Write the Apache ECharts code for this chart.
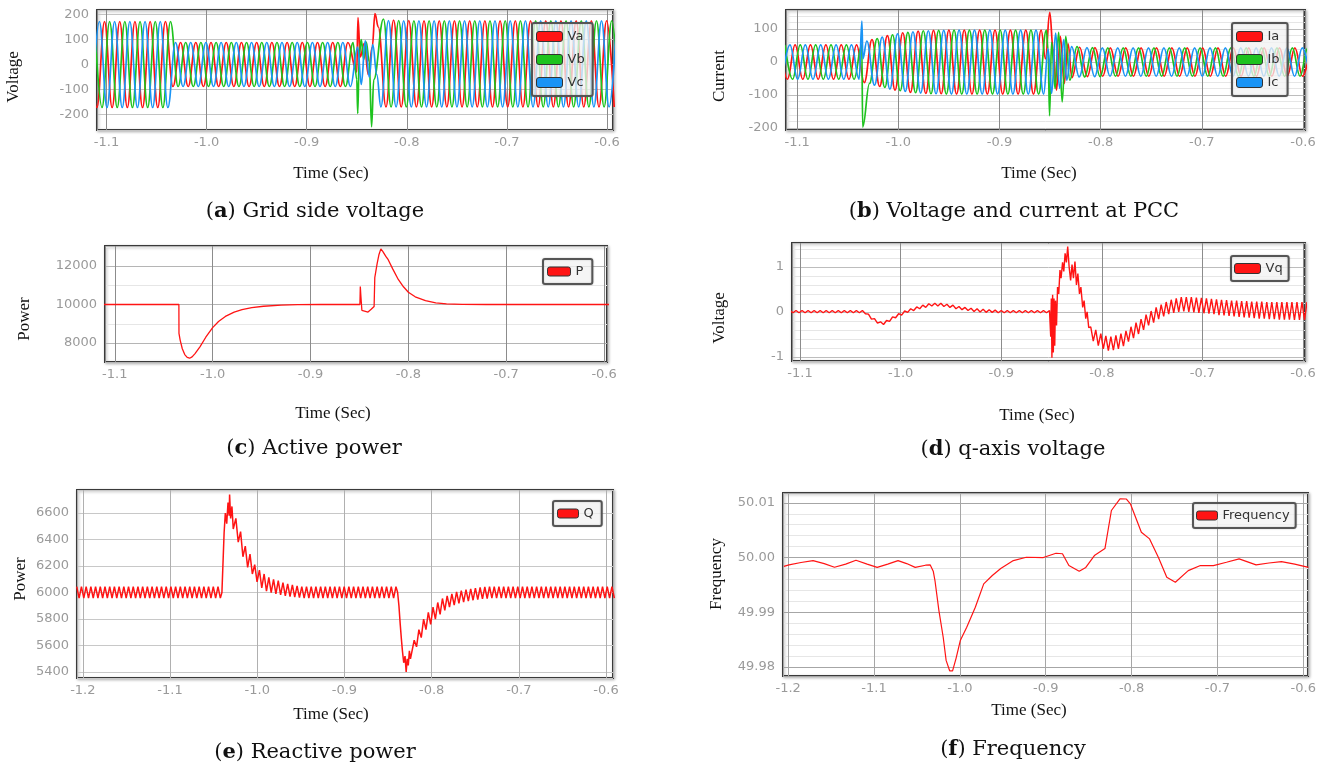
<!DOCTYPE html>
<html>
<head>
<meta charset="utf-8">
<title>Fault ride-through waveforms</title>
<script src="https://cdn.jsdelivr.net/npm/echarts@6.0.0/dist/echarts.min.js"></script>
<style>
html, body { margin: 0; padding: 0; background: #fff; }
#chart { width: 1320px; height: 769px; }
</style>
</head>
<body>
<div id="chart"></div>
<script>
// half a cycle of the three-phase waveforms, sec
const WAVE_STEP = 0.0076;

// (a) grid side voltage: peaks, one value per half cycle
const vaPre = [172,-172,172,-172,172,-172,172,-172,172,-172,172];
const vaMid = [-88,88,-88,88,-88,88,-88,88,-88,88,-88,88,-88,88,-88,88,-88,88,-88,88,-88,88,-88,88];
const vaFault = [[-0.8500,-30],[-0.8488,188],[-0.8465,30],[-0.8425,85],[-0.8385,-40],[-0.8345,70],[-0.8318,204],[-0.8285,150]];
const vaPost = [-170,178,-170,176,-170,175,-170,175,-170,175,-170,175,-170,175,-170,175,-170,175,-170,175,-170,175,-170,175,-170,175,-170,175,-170,175,-170];
const vbPre = [172,-172,172,-172,172,-172,172,-172,172,-172,172];
const vbMid = [-88,88,-88,88,-88,88,-88,88,-88,88,-88,88,-88,88,-88,88,-88,88,-88,88,-88,88,-88,88];
const vbFault = [[-0.8500,-60],[-0.8490,-196],[-0.8475,40],[-0.8455,100],[-0.8430,20],[-0.8405,90],[-0.8375,10],[-0.8352,-249],[-0.8330,-60]];
const vbPost = [182,-170,176,-170,175,-170,175,-170,175,-170,175,-170,175,-170,175,-170,175,-170,175,-170,175,-170,175,-170,175,-170,175,-170,175,-170,175,-170];
const vcPre = [-172,172,-172,172,-172,172,-172,172,-172,172,-172];
const vcMid = [88,-88,88,-88,88,-88,88,-88,88,-88,88,-88,88,-88,88,-88,88,-88,88,-88,88,-88,88,-88];
const vcFault = [[-0.8490,70],[-0.8455,-80],[-0.8415,95],[-0.8375,-50],[-0.8340,80],[-0.8300,-40]];
const vcPost = [-170,176,-170,175,-170,175,-170,175,-170,175,-170,175,-170,175,-170,175,-170,175,-170,175,-170,175,-170,175,-170,175,-170,175,-170,175,-170,175];

// (b) current at PCC
const iaPre = [52,-52,52,-52,52,-52,52,-52,52,-52,52];
const iaMid = [-62,68,-74,80,-85,89,-92,94,-95,96,-96,97,-97,97,-97,97,-97,97,-97,97,-97,97,-97,97];
const iaFault = [[-0.8545,10],[-0.8503,151],[-0.8470,40],[-0.8436,-85],[-0.8398,78],[-0.8360,-65],[-0.8322,55]];
const iaPost = [-47,45,-44,44,-43,43,-43,43,-43,43,-43,43,-43,43,-43,43,-43,43,-43,43,-43,43,-43,43,-43,43,-43,43,-43,43,-43,43];
const ibPre = [52,-52,52,-52,52,-52,52,-52,52,-52,52];
const ibSpike = [[-1.0352,-197]];
const ibMid = [-65,71,-77,83,-87,90,-93,95,-96,96,-97,97,-97,97,-97,97,-97,97,-97,97,-97,97,-97,97];
const ibFault = [[-0.8520,40],[-0.8505,-163],[-0.8485,60],[-0.8450,-80],[-0.8415,90],[-0.8380,-121],[-0.8345,78],[-0.8305,-55]];
const ibPost = [47,-45,44,-44,43,-43,43,-43,43,-43,43,-43,43,-43,43,-43,43,-43,43,-43,43,-43,43,-43,43,-43,43,-43,43,-43,43,-43];
const icPre = [-52,52,-52,52,-52,52,-52,52,-52,52,-52];
const icSpike = [[-1.0360,124],[-1.0350,10]];
const icMid = [64,-70,76,-82,86,-89,92,-94,95,-96,96,-97,97,-97,97,-97,97,-97,97,-97,97,-97,97,-97];
const icFault = [[-0.8520,40],[-0.8484,-95],[-0.8445,88],[-0.8405,-80],[-0.8365,68],[-0.8335,-55]];
const icPost = [47,-45,44,-44,43,-43,43,-43,43,-43,43,-43,43,-43,43,-43,43,-43,43,-43,43,-43,43,-43,43,-43,43,-43,43,-43,43,-43];

// (c) active power, [time, W]
const pPoints = [[-1.111,10000],[-1.0345,10000],[-1.0344,8500],[-1.0340,8420],[-1.0338,8560],[-1.0332,8150],[-1.0310,7700],[-1.0285,7400],[-1.0260,7250],[-1.0235,7210],[-1.0210,7280],[-1.0180,7450],[-1.0130,7800],[-1.0070,8300],[-1.0000,8800],[-0.9940,9120],[-0.9870,9380],[-0.9780,9600],[-0.9700,9730],[-0.9600,9840],[-0.9480,9910],[-0.9300,9965],[-0.9130,9990],[-0.8900,10000],[-0.8495,10000],[-0.8491,10930],[-0.8486,10500],[-0.8475,9700],[-0.8464,9600],[-0.8412,9610],[-0.8380,9750],[-0.8350,9900],[-0.8343,11400],[-0.8320,12100],[-0.8300,12600],[-0.8281,12890],[-0.8260,12750],[-0.8230,12500],[-0.8206,12330],[-0.8160,11850],[-0.8103,11300],[-0.8050,10920],[-0.8000,10640],[-0.7930,10400],[-0.7825,10200],[-0.7720,10080],[-0.7610,10030],[-0.7450,10010],[-0.7200,10000],[-0.5900,10000]];

// (d) q-axis voltage
const VQ_PRE_START = -1.110, VQ_PRE_STEP = 0.003;
const vqPre = [0.03,-0.02,0.03,-0.02,0.03,-0.02,0.03,-0.02,0.03,-0.02,0.03,-0.02,0.03,-0.02,0.03,-0.02,0.03,-0.02,0.03,-0.02,0.03,-0.02,0.03,-0.02,0.03,
  -0.04,-0.05,-0.16,-0.15,-0.25,-0.22,-0.28,-0.19,-0.21,-0.11,-0.13,-0.04,-0.07,0.02,-0.01,0.07,0.03,0.11,0.07,0.15,0.10,0.18,0.13,0.19,0.13,0.19,0.12,0.17,0.10,0.15,0.07,0.12,0.05,0.10,0.03,0.08,0.01,0.07,0.00,0.06,-0.01,
  0.05,-0.01,0.04,-0.02,0.03,-0.02,0.03,-0.02,0.03,-0.02,0.03,-0.02,0.03,-0.02,0.03,-0.02,0.03,-0.02,0.03,-0.02,0.03];
const vqFault = [[-0.8508,-0.55],[-0.8502,0.3],[-0.8496,-1.02],[-0.8489,0.38],[-0.8482,-0.9],[-0.8475,0.3],[-0.8468,-0.75],[-0.8460,0.25],[-0.8450,-0.3],[-0.8440,0.55],[-0.8428,0.4],[-0.8416,0.93],[-0.8405,0.75],[-0.8390,1.1],[-0.8378,0.9],[-0.8365,1.3],[-0.8352,1.1],[-0.8339,1.45],[-0.8325,1.0],[-0.8310,0.7],[-0.8296,1.05],[-0.8282,0.75],[-0.8267,1.12],[-0.8252,0.6],[-0.8238,0.85],[-0.8222,0.4],[-0.8208,0.55],[-0.8190,0.1],[-0.8176,0.25],[-0.8160,-0.15],[-0.8146,0.0],[-0.8130,-0.35]];
const VQ_POST_START = -0.8110, VQ_POST_STEP = 0.0025;
const vqPost = [-0.33,-0.65,-0.40,-0.75,-0.48,-0.82,-0.53,-0.86,-0.55,-0.85,
  -0.52,-0.82,-0.48,-0.76,-0.42,-0.66,-0.33,-0.58,-0.24,-0.49,
  -0.16,-0.40,-0.06,-0.30,0.02,-0.24,0.10,-0.16,0.16,-0.10,
  0.22,-0.05,0.27,-0.02,0.30,0.00,0.33,0.01,0.33,0.00,
  0.33,-0.01,0.32,-0.02,0.31,-0.03,0.30,-0.04,0.29,-0.05,
  0.28,-0.07,0.27,-0.08,0.26,-0.09,0.25,-0.10,0.25,-0.11,
  0.24,-0.12,0.24,-0.13,0.23,-0.14,0.23,-0.15,0.23,-0.15,
  0.22,-0.16,0.22,-0.16,0.22,-0.17,0.22,-0.17,0.22,-0.17,
  0.22,-0.18,0.22,-0.18,0.22,-0.18,0.22];

// (e) reactive power
const Q_STEP = 0.0027;
const qPre = [6045,5958,6045,5958,6045,5958,6045,5958,6045,5958,6045,5958,6045,5958,6045,5958,6045,5958,6045,5958,
  6045,5958,6045,5958,6045,5958,6045,5958,6045,5958,6045,5958,6045,5958,6045,5958,6045,5958,6045,5958,
  6045,5958,6045,5958,6045,5958,6045,5958,6045,5958,6045,5958,6045,5958,6045,5958,6045,5958,6045,5958,6045,5958];
const qRise = [[-1.0405,6000],[-1.0380,6450],[-1.0366,6600],[-1.0350,6520],[-1.0335,6680],[-1.0322,6580],[-1.0317,6740],[-1.0305,6560],[-1.0290,6650],[-1.0275,6480]];
const qMid = [6560,6380,6460,6270,6350,6190,6290,6140,6210,6080,6170,6035,6140,6010,6115,6000,6100,5990,6090,5982,6075,5975,6065,5970,6058,5965,6050,5962,
  6045,5958,6045,5958,6045,5958,6045,5958,6045,5958,6045,5958,6045,5958,6045,5958,6045,5958,6045,5958,
  6045,5958,6045,5958,6045,5958,6045,5958,6045,5958,6045,5958,6045,5958,6045,5958,6045,5958,6045,5958,6045];
const qDrop = [[-0.8390,6000],[-0.8375,5900],[-0.8360,5760],[-0.8347,5650],[-0.8335,5560],[-0.8320,5470],[-0.8305,5520],[-0.8292,5400],[-0.8280,5500],[-0.8268,5450],[-0.8255,5560],[-0.8243,5500]];
const qPost = [5640,5590,5720,5660,5800,5720,5850,5760,5890,5800,5925,5835,5955,5865,5975,5890,5990,5905,6005,5918,6015,5928,6022,5936,6028,5942,6033,5947,6038,5952,6042,5955,
  6045,5958,6045,5958,6045,5958,6045,5958,6045,5958,6045,5958,6045,5958,6045,5958,6045,5958,6045,5958,6045,5958,6045,5958,6045,5958,6045,5958,
  6045,5958,6045,5958,6045,5958,6045,5958,6045,5958,6045,5958,6045,5958,6045,5958,6045,5958,6045,5958,6045,5958,6045,5958,6045,5958];

// (f) frequency, [time, Hz]
const fPoints = [[-1.205,49.9984],[-1.1990,49.99866],[-1.1850,49.9991],[-1.1710,49.99945],[-1.1580,49.9989],[-1.1460,49.99823],[-1.1330,49.9988],[-1.1210,49.9995],[-1.1080,49.9988],[-1.0963,49.9982],[-1.0840,49.9988],[-1.0720,49.99945],[-1.0620,49.9989],[-1.0520,49.9982],[-1.0400,49.9986],[-1.0345,49.99866],[-1.0310,49.9975],[-1.0290,49.9958],[-1.0244,49.9903],[-1.0194,49.98543],[-1.0160,49.9812],[-1.0119,49.9793],[-1.0085,49.9793],[-1.0045,49.98154],[-0.9995,49.98483],[-0.9920,49.98726],[-0.9820,49.99091],[-0.9722,49.99519],[-0.9622,49.99671],[-0.9524,49.99799],[-0.9377,49.99945],[-0.9226,50.00006],[-0.9028,50.0],[-0.8880,50.00079],[-0.8805,50.0007],[-0.8730,49.99854],[-0.8610,49.9975],[-0.8533,49.9982],[-0.8433,50.00037],[-0.8310,50.00164],[-0.8235,50.0086],[-0.8135,50.01073],[-0.8060,50.0107],[-0.8014,50.00982],[-0.7886,50.00463],[-0.7790,50.00341],[-0.7687,50.0],[-0.7590,49.9964],[-0.7490,49.99549],[-0.7340,49.99762],[-0.7198,49.99854],[-0.7047,49.99854],[-0.6895,49.99914],[-0.6747,49.99976],[-0.6550,49.99866],[-0.6400,49.9990],[-0.6254,49.99927],[-0.6100,49.9988],[-0.5940,49.9982]];

// put evenly spaced samples on the time axis
const onGrid = (start, step, values) => values.map((v, i) => [+(start + i * step).toFixed(5), v]);
const join = (...parts) => [].concat(...parts);

const RED = '#ff1414', GREEN = '#1ec31e', BLUE = '#1a94f5';
const tickFont = { color: '#9a9a9a', fontFamily: 'DejaVu Sans', fontSize: 13 };

// grid boxes in px: left, top, width, height
const panels = [
  { box: [97, 10, 516, 120], x: [-1.1095, -0.594], y: [-262, 218], ySplit: 5, yStep: 100, yDigits: 0, minor: 0, xLine: '#8c8c8c', yLine: '#c4c4c4' },
  { box: [786, 10, 519, 120], x: [-1.111, -0.598], y: [-206, 158], ySplit: 5, yStep: 100, yDigits: 0, minor: 5, xLine: '#8c8c8c', yLine: '#bdbdbd' },
  { box: [105, 246, 502, 116], x: [-1.110, -0.597], y: [7013, 13040], ySplit: 3, yStep: 2000, yDigits: 0, minor: 2, xLine: '#8c8c8c', yLine: '#b5b5b5' },
  { box: [792, 243, 513, 118], x: [-1.108, -0.598], y: [-1.09, 1.53], ySplit: 3, yStep: 1, yDigits: 0, minor: 5, xLine: '#8c8c8c', yLine: '#bdbdbd' },
  { box: [77, 490, 536, 188], x: [-1.2067, -0.592], y: [5355, 6774], ySplit: 7, yStep: 200, yDigits: 0, minor: 0, xLine: '#b0b0b0', yLine: '#c8c8c8' },
  { box: [783, 493, 525, 183], x: [-1.206, -0.5945], y: [49.97835, 50.0118], ySplit: 3, yStep: 0.01, yDigits: 2, minor: 5, xLine: '#a6a6a6', yLine: '#a6a6a6' }
];

const onStep = (v, step) => Math.abs(v / step - Math.round(v / step)) < 1e-6;

const grids = panels.map(p => ({
  left: p.box[0], top: p.box[1], width: p.box[2], height: p.box[3],
  show: true, backgroundColor: '#fff', borderColor: '#3a3a3a', borderWidth: 2,
  shadowColor: 'rgba(0,0,0,0.25)', shadowBlur: 3, shadowOffsetX: 1, shadowOffsetY: 1
}));

const xAxes = panels.map((p, i) => ({
  type: 'value', gridIndex: i, min: p.x[0], max: p.x[1],
  axisLine: { show: false }, axisTick: { show: false },
  axisLabel: { ...tickFont, margin: 6, formatter: v => onStep(v, 0.1) ? v.toFixed(1) : '' },
  splitLine: { lineStyle: { color: p.xLine, width: 1 } }
}));

const yAxes = panels.map((p, i) => ({
  type: 'value', gridIndex: i, min: p.y[0], max: p.y[1], splitNumber: p.ySplit,
  axisLine: { show: false }, axisTick: { show: false },
  axisLabel: { ...tickFont, margin: 8, formatter: v => onStep(v, p.yStep) ? v.toFixed(p.yDigits) : '' },
  splitLine: { lineStyle: { color: p.yLine, width: 1 } },
  minorTick: { show: false, splitNumber: p.minor || 5 },
  minorSplitLine: { show: p.minor > 0, lineStyle: { color: '#e6e6e6', width: 1 } }
}));

function line(name, idx, color, data, width, smooth) {
  return {
    name, type: 'line', xAxisIndex: idx, yAxisIndex: idx, data,
    showSymbol: false, symbol: 'none', smooth: smooth || false, smoothMonotone: 'x',
    color, lineStyle: { color, width }, emphasis: { disabled: true }
  };
}

const series = [
  line('Va', 0, RED, join(onGrid(-1.1172, WAVE_STEP, vaPre), onGrid(-1.0336, WAVE_STEP, vaMid), vaFault, onGrid(-0.8208, WAVE_STEP, vaPost)), 1.7, 0.4),
  line('Vb', 0, GREEN, join(onGrid(-1.1121, WAVE_STEP, vbPre), onGrid(-1.0285, WAVE_STEP, vbMid), vbFault, onGrid(-0.8233, WAVE_STEP, vbPost)), 1.7, 0.4),
  line('Vc', 0, BLUE, join(onGrid(-1.1147, WAVE_STEP, vcPre), onGrid(-1.0311, WAVE_STEP, vcMid), vcFault, onGrid(-0.8259, WAVE_STEP, vcPost)), 1.7, 0.4),
  line('Ia', 1, RED, join(onGrid(-1.1172, WAVE_STEP, iaPre), onGrid(-1.0336, WAVE_STEP, iaMid), iaFault, onGrid(-0.8284, WAVE_STEP, iaPost)), 1.7, 0.4),
  line('Ib', 1, GREEN, join(onGrid(-1.1121, WAVE_STEP, ibPre), ibSpike, onGrid(-1.0285, WAVE_STEP, ibMid), ibFault, onGrid(-0.8233, WAVE_STEP, ibPost)), 1.7, 0.4),
  line('Ic', 1, BLUE, join(onGrid(-1.1147, WAVE_STEP, icPre), icSpike, onGrid(-1.0311, WAVE_STEP, icMid), icFault, onGrid(-0.8287, WAVE_STEP, icPost)), 1.7, 0.4),
  line('P', 2, RED, pPoints, 1.3),
  line('Vq', 3, RED, join(onGrid(VQ_PRE_START, VQ_PRE_STEP, vqPre), vqFault, onGrid(VQ_POST_START, VQ_POST_STEP, vqPost)), 1.4),
  line('Q', 4, RED, join(onGrid(-1.207, Q_STEP, qPre), qRise, onGrid(-1.0245, Q_STEP, qMid), qDrop, onGrid(-0.8200, Q_STEP, qPost)), 1.5),
  line('Frequency', 5, RED, fPoints, 1.2)
];

function legend(names, left, top, w, h, padding) {
  return {
    data: names, left, top, orient: 'vertical', padding, itemGap: 10,
    itemWidth: w, itemHeight: h, icon: 'roundRect',
    backgroundColor: 'rgba(255,255,255,0.72)', borderColor: '#555', borderWidth: 2, borderRadius: 2,
    shadowColor: 'rgba(0,0,0,0.2)', shadowBlur: 2,
    itemStyle: { borderColor: '#333', borderWidth: 1 },
    textStyle: { fontFamily: 'DejaVu Sans', fontSize: 13, color: '#333' },
    selectedMode: false
  };
}

const legends = [
  legend(['Va', 'Vb', 'Vc'], 532, 23, 26, 10, [7, 8, 7, 4]),
  legend(['Ia', 'Ib', 'Ic'], 1232, 23, 26, 10, [7, 8, 7, 4]),
  legend(['P'], 543, 259, 23, 9, [6, 9, 6, 4]),
  legend(['Vq'], 1231, 256, 26, 10, [6, 6, 6, 3]),
  legend(['Q'], 553, 501, 21, 9, [6, 8, 6, 4]),
  legend(['Frequency'], 1193, 503, 21, 9, [6, 6, 6, 3])
];

const axisNames = [
  ['Voltage', 14, 77, true], ['Time (Sec)', 331, 174],
  ['Current', 720, 76, true], ['Time (Sec)', 1039, 174],
  ['Power', 25, 319, true], ['Time (Sec)', 333, 414],
  ['Voltage', 720, 318, true], ['Time (Sec)', 1037, 416],
  ['Power', 21, 579, true], ['Time (Sec)', 331, 715],
  ['Frequency', 717, 574, true], ['Time (Sec)', 1029, 711]
];
const captions = [
  ['a', 'Grid side voltage', 315, 212], ['b', 'Voltage and current at PCC', 1014, 212],
  ['c', 'Active power', 314, 449], ['d', 'q-axis voltage', 1013, 450],
  ['e', 'Reactive power', 315, 753], ['f', 'Frequency', 1013, 750]
];

const graphics = axisNames.map(([text, x, y, vertical]) => ({
  type: 'text', x, y, rotation: vertical ? Math.PI / 2 : 0, silent: true,
  style: { text, fontFamily: 'Liberation Serif', fontSize: 17, fill: '#111',
    textAlign: 'center', textVerticalAlign: 'middle', align: 'center', verticalAlign: 'middle' }
})).concat(captions.map(([tag, text, x, y]) => ({
  type: 'text', x, y, silent: true,
  style: {
    text: '({b|' + tag + '}) ' + text, fontFamily: 'DejaVu Serif', fontSize: 21, fill: '#111',
    textAlign: 'center', textVerticalAlign: 'middle', align: 'center', verticalAlign: 'middle',
    rich: { b: { fontFamily: 'DejaVu Serif', fontSize: 21, fontWeight: 'bold', fill: '#111' } }
  }
})));

const chart = echarts.init(document.getElementById('chart'));
chart.setOption({
  animation: false,
  backgroundColor: '#fff',
  grid: grids,
  xAxis: xAxes,
  yAxis: yAxes,
  legend: legends,
  series,
  graphic: graphics
});
</script>
</body>
</html>
